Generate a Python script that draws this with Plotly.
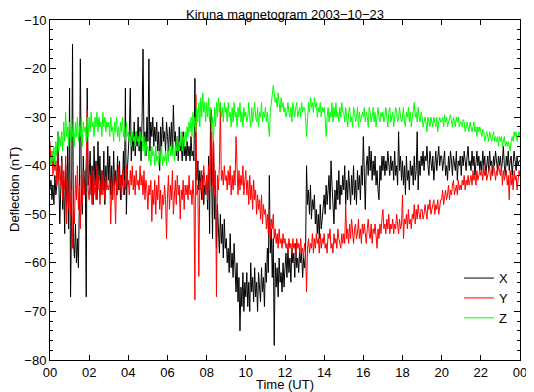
import numpy as np
import plotly.graph_objects as go

# time in hours UT, sampled every 0.05 h (3 min)
time_h = np.round(np.arange(481) * 0.05, 2)

x_nt = [
    -45, -43, -47, -44, -48, -42, -46, -44, -33, -41, -52, -45, -38, -49, -43, -54, -40, -48, -36, -53,
    -24, -67, -50, -15, -56, -59, -52, -60, -55, -61, -47, -18, -45, -50, -38, -46, -41, -67, -24, -44,
    -42, -37, -46, -40, -48, -36, -44, -39, -47, -35, -43, -38, -46, -41, -45, -37, -48, -40, -44, -36,
    -43, -38, -46, -40, -47, -37, -44, -41, -46, -38, -45, -39, -47, -42, -44, -37, -46, -24, -50, -41,
    -38, -33, -24, -39, -34, -37, -31, -38, -33, -36, -30, -37, -32, -39, -31, -16, -36, -33, -38, -30,
    -35, -18, -37, -31, -34, -30, -36, -32, -35, -31, -37, -33, -41, -32, -36, -30, -35, -33, -37, -31,
    -34, -37, -32, -36, -31, -38, -27.5, -35, -33, -38, -34, -39, -32, -37, -35, -39, -33, -38, -36, -39,
    -35, -38, -36, -39, -34, -38, -37, -39, -22, -40, -43, -39, -45, -41, -44, -47, -42, -48, -44, -46,
    -42, -49, -38, -54, -28, -46, -55, -35, -51, -44, -57, -48, -53, -58, -50, -56, -52, -59, -51, -57,
    -55, -60, -57, -62, -54, -61, -58, -63, -56, -62, -66, -60, -68, -63, -74, -65, -69, -62, -70, -64,
    -67, -62, -69, -64, -70, -60, -66, -63, -68, -61, -67, -64, -70, -62, -65, -68, -61, -66, -63, -69,
    -60, -64, -57, -62, -42, -58, -53, -63, -55, -77, -60, -65, -61, -67, -59, -64, -62, -66, -60, -65,
    -61, -58, -63, -57, -62, -59, -64, -57, -60, -58, -63, -56, -61, -59, -62, -57, -60, -58, -63, -59,
    -61, -58, -40, -48, -45, -50, -44, -51, -47, -49, -46, -52, -49, -54, -50, -55, -48, -53, -51, -49,
    -46, -50, -44, -48, -45, -42, -49, -39, -44, -47, -52, -45, -49, -43, -47, -41, -48, -44, -46, -42,
    -45, -40, -48, -43, -47, -41, -44, -48, -42, -46, -40, -47, -43, -48, -41, -45, -42, -47, -40, -44,
    -34, -45, -49, -40, -38, -42, -36, -41, -37, -43, -39, -42, -38, -44, -41, -45, -47, -40, -43, -38,
    -41, -38, -42, -39, -41, -37, -40, -42, -38, -41, -39, -43, -37, -42, -40, -44, -33, -41, -38, -43,
    -39, -44, -40, -46, -38, -43, -41, -45, -39, -42, -40, -44, -38, -43, -41, -33, -45, -39, -42, -38,
    -40, -37, -41, -38, -39, -36, -40, -42, -37, -39, -41, -38, -43, -40, -37, -41, -39, -36, -40, -38,
    -38, -41, -39, -37, -42, -40, -43, -38, -41, -37, -39, -42, -38, -40, -41, -37, -43, -39, -40, -38,
    -42, -38, -40, -37, -39, -41, -38, -36, -40, -39, -41, -37, -40, -38, -42, -39, -37, -40, -38, -41,
    -39, -41, -37, -40, -38, -42, -39, -38, -41, -37, -40, -39, -42, -38, -40, -37, -39, -41, -38, -40,
    -38, -41, -39, -36, -40, -42, -38, -40, -37, -41, -39, -38, -42, -40, -37, -39, -41, -38, -40, -39,
    -39,
]

y_nt = [
    -35, -40, -37, -42, -38, -41, -39, -44, -38, -43, -40, -44, -39, -47, -41, -45, -38, -52, -43, -49,
    -42, -50, -45, -57, -48, -52, -42, -47, -40, -49, -44, -53, -42, -48, -41, -46, -43, -39, -28.5, -45,
    -47, -42, -45, -48, -41, -46, -43, -47, -40, -45, -42, -48, -44, -41, -46, -43, -47, -42, -45, -44,
    -45, -42, -52, -44, -47, -41, -45, -52, -43, -46, -40, -45, -42, -47, -41, -46, -43, -45, -40, -44,
    -43, -46, -41, -44, -40, -45, -42, -46, -41, -44, -43, -45, -40, -44, -42, -46, -41, -47, -43, -45,
    -49, -44, -46, -43, -51.5, -45, -48, -43, -50, -44, -47, -42, -49, -45, -51, -46, -48, -44, -47, -55,
    -46, -42, -49, -44, -47, -41, -50, -45, -43, -48, -42, -46, -44, -51, -45, -47, -43, -49, -44, -46,
    -44, -47, -42, -46, -45, -48, -43, -47, -67.6, -25.4, -46, -44, -62.8, -43, -45, -41, -47, -40, -44, -46,
    -42, -47, -40, -45, -38, -28.5, -44, -34, -46, -41, -67, -42, -45, -40, -27, -43, -41, -44, -40, -43,
    -42, -45, -41, -44, -40, -46, -42, -45, -41, -44, -34, -43, -46, -41, -45, -42, -44, -40, -46, -43,
    -41, -46, -43, -48, -42, -47, -44, -49, -43, -47, -45, -50, -46, -49, -47, -51, -46, -52, -48, -50,
    -49, -53, -50, -54, -49, -55, -51, -53, -50, -55, -53, -56, -54, -57, -53, -56, -55, -57, -54, -56,
    -55, -57, -56, -58, -55, -57, -56, -58, -55, -57, -56, -59, -55, -57, -56, -58, -55, -58, -57, -59,
    -56, -58, -66, -57, -55, -58, -56, -57, -54, -58, -55, -57, -54, -56, -55, -58, -54, -57, -55, -56,
    -54, -57, -56, -58, -54, -55, -53, -57, -56, -58, -54, -56, -55, -57, -53, -55, -56, -57, -54, -56,
    -54, -56, -48, -55, -53, -56, -52, -55, -51, -54, -56, -53, -52, -55, -54, -51, -55, -53, -56, -52,
    -54, -52, -55, -56, -53, -51, -54, -55, -52, -56, -53, -54, -52, -55, -57, -53, -55, -52, -54, -51,
    -49, -53, -52, -54, -51, -53, -50, -54, -52, -53, -51, -54, -52, -53, -50, -52, -54, -51, -53, -52,
    -46, -55, -51, -52, -50, -53, -49, -52, -51, -53, -50, -51, -48, -52, -49, -51, -48, -50, -51, -49,
    -49, -51, -50, -48, -50, -51, -48, -49, -47, -50, -49, -48, -47, -50, -48, -49, -47, -50, -48, -47,
    -47, -45, -48, -46, -45, -47, -46, -44, -47, -45, -46, -44, -43, -46, -45, -44, -46, -43, -45, -44,
    -45, -43, -44, -42, -45, -43, -44, -42, -44, -43, -42, -44, -41, -43, -42, -44, -41, -43, -42, -41,
    -42, -41, -43, -40, -42, -41, -43, -42, -41, -40, -43, -41, -42, -40, -41, -43, -41, -42, -40, -41,
    -42, -40, -44, -41, -43, -42, -41, -44, -42, -47, -41, -44, -42, -45, -41, -43, -42, -45, -43, -41,
    -42,
]

z_nt = [
    -38, -40, -37, -39, -36, -40, -35, -38, -33, -37, -34, -36, -33, -37, -31, -35, -29, -34, -32, -36,
    -31, -35, -30, -34, -32, -36, -31, -34, -30, -35, -32, -34, -30, -36, -31, -33, -32, -35, -30, -34,
    -30, -33, -29, -32, -31, -34, -30, -32, -29, -33, -30, -32, -31, -34, -29, -32, -30, -33, -31, -32,
    -31, -34, -30, -33, -32, -35, -31, -33, -30, -34, -32, -35, -31, -33, -30, -34, -32, -35, -31, -34,
    -33, -35, -34, -36, -33, -35, -34, -36, -33, -35, -34, -36, -33, -35, -34, -37, -34, -38, -35, -37,
    -36, -39, -37, -40, -36, -38, -37, -40, -36, -39, -38, -40, -37, -39, -36, -40, -38, -39, -37, -40,
    -36, -39, -35, -38, -36, -38, -35, -39, -36, -37, -34, -37, -35, -36, -33, -37, -34, -36, -33, -35,
    -32, -34, -31, -33, -30, -34, -29, -32, -30, -33, -28, -31, -27, -32, -26, -30, -25, -29, -27, -31,
    -27, -30, -26, -31, -28, -33, -30, -35, -28, -32, -27, -30, -26, -29, -27, -30, -28, -31, -27, -29,
    -28, -31, -27, -30, -29, -32, -28, -31, -27, -30, -29, -32, -28, -30, -27, -31, -29, -32, -28, -30,
    -29, -31, -30, -27, -30, -32, -28, -31, -29, -27, -30, -31, -28, -32, -29, -30, -27, -31, -29, -30,
    -28, -31, -29, -32, -34, -29, -27, -26, -23.5, -25, -27, -26, -28, -25, -27, -29, -26, -28, -27, -29,
    -28, -30, -29, -27, -29, -30, -28, -31, -27, -29, -30, -28, -27, -30, -29, -28, -30, -27, -29, -28,
    -28, -30, -34, -29, -27, -29, -26, -28, -27, -29, -26, -28, -27, -30, -28, -29, -27, -30, -28, -29,
    -28, -30, -34, -30, -28, -31, -29, -30, -27, -31, -28, -30, -27, -30, -29, -31, -28, -30, -27, -29,
    -29, -31, -28, -30, -32, -29, -28, -31, -30, -32, -28, -29, -31, -30, -28, -32, -29, -31, -30, -29,
    -30, -28, -31, -29, -30, -32, -28, -29, -31, -30, -28, -31, -29, -32, -30, -28, -30, -31, -29, -30,
    -29, -31, -30, -28, -30, -32, -29, -28, -31, -30, -29, -32, -30, -28, -29, -31, -30, -28, -30, -31,
    -30, -28, -31, -32, -29, -30, -28, -31, -29, -32, -30, -28, -27, -30, -29, -31, -28, -30, -31, -29,
    -30, -32, -31, -30, -31, -33, -30, -31, -32, -30, -31, -32, -30, -31, -32, -30, -33, -31, -30, -31,
    -31, -30, -32, -29.5, -31, -30, -32, -31, -30, -29.5, -31, -32, -30, -31, -32, -30, -31, -30, -32, -31,
    -31, -32, -30.5, -31, -33, -32, -31, -32, -33, -31, -32, -33, -32, -31, -33, -32, -34, -32, -33, -32,
    -33, -34, -32.5, -33, -35, -34, -33, -34, -35, -33, -34, -35, -34, -33, -35, -34, -35, -34, -36, -34,
    -35, -34, -36, -35, -34, -36, -35, -36, -35, -36, -37, -35, -34, -35, -33, -34, -33, -35, -34, -33,
    -34,
]

tick_hours = list(range(0, 25, 2))
tick_labels = ["00", "02", "04", "06", "08", "10", "12", "14", "16", "18", "20", "22", "00"]

FONT = "Liberation Sans, Arial, Helvetica, sans-serif"

fig = go.Figure()
fig.add_trace(go.Scatter(x=time_h, y=x_nt, mode="lines", name="X",
                         line=dict(color="#000000", width=1)))
fig.add_trace(go.Scatter(x=time_h, y=y_nt, mode="lines", name="Y",
                         line=dict(color="#ff0000", width=1)))
fig.add_trace(go.Scatter(x=time_h, y=z_nt, mode="lines", name="Z",
                         line=dict(color="#00ff00", width=1)))

# page body has an 8px margin, so the figure is 526x384 to fill the 534x392 window
fig.update_layout(
    width=526, height=384,
    margin=dict(l=42, r=14, t=12, b=32),
    paper_bgcolor="white", plot_bgcolor="white",
    font=dict(family=FONT, size=13, color="black"),
    title=dict(text="Kiruna magnetogram 2003\u221210\u221223", x=0.5, xref="paper",
               y=1, yref="paper", yanchor="bottom", pad=dict(b=1),
               font=dict(family=FONT, size=13, color="black")),
    showlegend=True,
    legend=dict(x=0.87, xanchor="left", y=0.285, yanchor="top",
                bgcolor="rgba(0,0,0,0)", borderwidth=0,
                font=dict(family=FONT, size=13, color="black"),
                tracegroupgap=0),
    annotations=[
        dict(text="Time (UT)", xref="paper", yref="paper", x=0.5, y=0,
             yshift=-24, yanchor="middle", showarrow=False,
             font=dict(family=FONT, size=13, color="black")),
        dict(text="Deflection (nT)", xref="paper", yref="paper", x=0, y=0.5,
             xshift=-36, textangle=-90, xanchor="center", showarrow=False,
             font=dict(family=FONT, size=13, color="black")),
    ],
)

fig.update_xaxes(range=[0, 24], tickvals=tick_hours, ticktext=tick_labels,
                 ticks="inside", ticklen=5, tickcolor="black",
                 showline=True, linecolor="black", linewidth=1, mirror="allticks",
                 showgrid=False, zeroline=False, automargin=False)
fig.update_yaxes(range=[-80, -10], dtick=10, tick0=-80,
                 ticks="inside", ticklen=6, tickcolor="black",
                 minor=dict(ticks="inside", ticklen=3, dtick=2, tickcolor="black", showgrid=False),
                 showline=True, linecolor="black", linewidth=1, mirror="allticks",
                 showgrid=False, zeroline=False, automargin=False)

fig.write_html("out.html")
